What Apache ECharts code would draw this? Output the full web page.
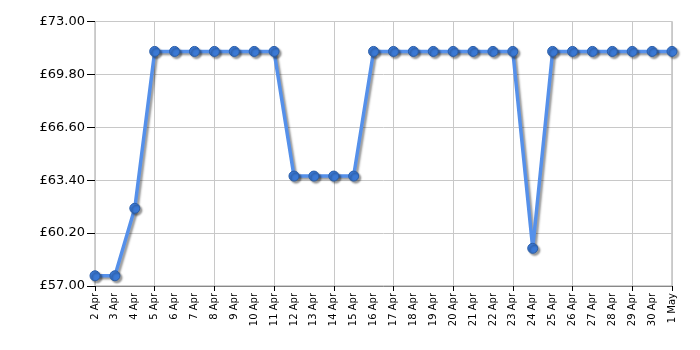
<!DOCTYPE html>
<html><head><meta charset="utf-8">
<script src="https://cdn.jsdelivr.net/npm/echarts@6/dist/echarts.min.js"></script>
<style>html,body{margin:0;padding:0;background:#fff}#c{width:700px;height:350px}</style>
</head><body><div id="c"></div>
<script>
var categories = ['2 Apr','3 Apr','4 Apr','5 Apr','6 Apr','7 Apr','8 Apr','9 Apr','10 Apr','11 Apr','12 Apr','13 Apr','14 Apr','15 Apr','16 Apr','17 Apr','18 Apr','19 Apr','20 Apr','21 Apr','22 Apr','23 Apr','24 Apr','25 Apr','26 Apr','27 Apr','28 Apr','29 Apr','30 Apr','1 May'];
var prices = [57.62,57.62,61.70,71.19,71.19,71.19,71.19,71.19,71.19,71.19,63.65,63.65,63.65,63.65,71.19,71.19,71.19,71.19,71.19,71.19,71.19,71.19,59.28,71.19,71.19,71.19,71.19,71.19,71.19,71.19];
var yMin = 57.0, yMax = 73.0, yStep = 3.2;

var chart = echarts.init(document.getElementById('c'), null, {renderer:'canvas'});
chart.setOption({
  animation:false,
  grid:{left:95,right:28,top:21.5,bottom:64,show:true,borderColor:'#a0a0a0',borderWidth:1},
  xAxis:{
    type:'category', data:categories, boundaryGap:false,
    axisLine:{lineStyle:{color:'#888',width:1}},
    axisTick:{show:true,interval:2,length:5,lineStyle:{color:'#000'}},
    splitLine:{show:true,interval:2,lineStyle:{color:'#c8c8c8',width:1}},
    axisLabel:{interval:0,rotate:90,fontFamily:'DejaVu Sans',fontSize:10,color:'#000',margin:7}
  },
  yAxis:{
    type:'value', min:yMin, max:yMax, interval:yStep,
    axisLine:{show:false},
    axisTick:{show:true,length:8,lineStyle:{color:'#000'}},
    splitLine:{lineStyle:{color:'#c8c8c8',width:1}},
    axisLabel:{fontFamily:'DejaVu Sans',fontSize:13,color:'#000',margin:10,
      formatter:function(v){return '£'+v.toFixed(2);}}
  },
  series:[{
    type:'line', data:prices, symbol:'circle', symbolSize:10,
    lineStyle:{color:'#5590ea',width:3.5,shadowColor:'rgba(0,0,0,0.4)',shadowBlur:2,shadowOffsetX:2,shadowOffsetY:2},
    itemStyle:{color:'#3a78d4',borderColor:'#2b5ea8',borderWidth:1,shadowColor:'rgba(0,0,0,0.4)',shadowBlur:2,shadowOffsetX:2,shadowOffsetY:2}
  }]
});
</script></body></html>
